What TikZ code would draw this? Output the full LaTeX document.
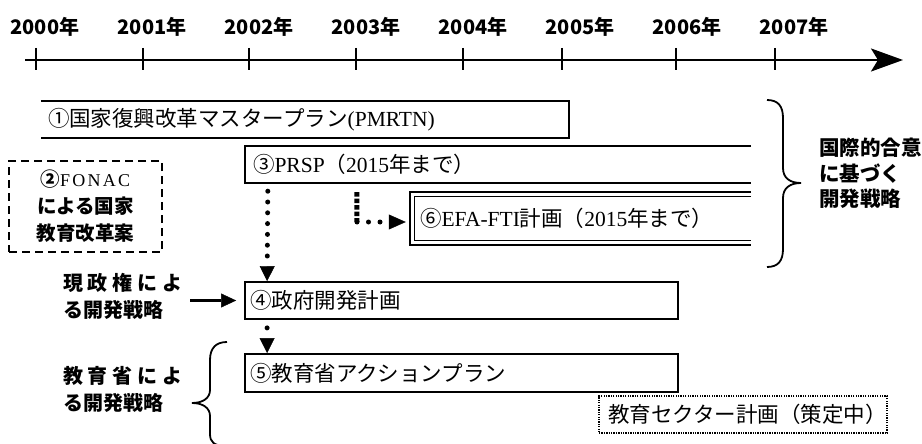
\documentclass[tikz,border=0pt]{standalone}
\usepackage{fontspec}
\setmainfont{Liberation Serif}
\newfontfamily\jp{Noto Sans CJK JP}
\usetikzlibrary{arrows.meta,calc}
\begin{document}
\begin{tikzpicture}[x=1pt,y=-1pt,
  every node/.style={inner sep=0pt},
  year/.style={font=\jp\bfseries\fontsize{20}{24}\selectfont},
  lbl/.style={font=\jp\bfseries\fontsize{20}{27}\selectfont, align=left, anchor=west},
  bx/.style={font=\fontsize{21.5}{26}\selectfont, align=left, inner xsep=#1, inner ysep=0pt},
  boxline/.style={line width=1.8pt},
  rdots/.style={line width=5pt, line cap=round, dash pattern=on 0pt off 10.8pt},
  sqdots/.style={line width=5pt, line cap=butt, dash pattern=on 4.5pt off 2pt},
  tip/.style={-{Triangle[length=15pt,width=15pt,line width=0.4pt]}},
  bracestyle/.style={line width=1.8pt}
]
\useasboundingbox (0,0) rectangle (922,444);
\fill[white] (0,0) rectangle (922,444);
\clip (0,0) rectangle (922,444);

% timeline
\draw[line width=2.5pt, -{Stealth[length=32pt,width=23pt,inset=7pt]}] (25,60) -- (903,60);
\foreach \x in {36,143,249,356,463,562,676,775}
  \draw[line width=2pt] (\x,48) -- (\x,70);
\foreach \i/\yr in {0/2000,1/2001,2/2002,3/2003,4/2004,5/2005,6/2006,7/2007}
  \node[year] (y\yr) at (45+107*\i,27) {\yr 年};

% (1) PMRTN, open at left
\node[bx=7pt, minimum height=37pt, text width=514pt] (n1) at (305,119.5)
  {{\jp ①国家復興改革マスタープラン}(PMRTN)};
\draw[boxline] (n1.north west) -- (n1.north east) -- (n1.south east) -- (n1.south west);

% (3) PRSP, open at right
\node[bx=8pt, minimum height=37pt, text width=490pt] (n3) at (498,164.5)
  {{\jp ③}PRSP{\jp （}2015{\jp 年まで）}};
\draw[boxline] (n3.north east) -- (n3.north west) -- (n3.south west) -- (n3.south east);

% (6) EFA-FTI, double line, open at right
\node[bx=10pt, minimum height=53pt, text width=321pt] (n6) at (580.5,218.5)
  {{\jp ⑥}EFA-FTI{\jp 計画（}2015{\jp 年まで）}};
\draw[line width=2.5pt] (n6.north east) -- (n6.north west) -- (n6.south west) -- (n6.south east);
\draw[line width=1.2pt] ([yshift=-4.5pt]n6.north east) -- ([xshift=4.5pt,yshift=-4.5pt]n6.north west)
  -- ([xshift=4.5pt,yshift=4.5pt]n6.south west) -- ([yshift=4.5pt]n6.south east);

% (4), (5), sector plan
\node[bx=5pt, draw, boxline, minimum height=37pt, text width=423pt] (n4) at (461.5,300.5)
  {\jp ④政府開発計画};
\node[bx=5pt, draw, boxline, minimum height=38pt, text width=423pt] (n5) at (461.5,373)
  {\jp ⑤教育省アクションプラン};
\node[bx=9pt, draw, line width=1.3pt, dash pattern=on 1.3pt off 1.1pt, minimum height=37pt, text width=270pt] (ns) at (743,414.5)
  {\jp 教育セクター計画（策定中）};

% (2) FONAC dashed box
\node[draw, line width=2.6pt, dash pattern=on 8pt off 5pt, minimum width=153pt, minimum height=91pt,
  align=center, font=\jp\bfseries\fontsize{19.5}{27}\selectfont] (n2) at (85.5,206.5)
  {②\makebox[70pt][s]{\rmfamily\mdseries\fontsize{18}{20}\selectfont F\hfil O\hfil N\hfil A\hfil C}\\による国家\\教育改革案};

% labels
\node[lbl] (L1) at (63,296.5) {\makebox[119pt][s]{現\hfil 政\hfil 権\hfil に\hfil よ}\\る開発戦略};
\node[lbl] (L2) at (63,389) {\makebox[119pt][s]{教\hfil 育\hfil 省\hfil に\hfil よ}\\る開発戦略};
\node[lbl, font=\jp\bfseries\fontsize{20.5}{25.5}\selectfont] (R) at (819,173.5) {国際的合意\\に基づく\\開発戦略};

% connectors
\draw[rdots, tip] ([xshift=23pt,yshift=-8pt]n3.south west) -- ([xshift=23pt]n4.north west);
\draw[rdots, tip] ([xshift=23pt,yshift=-8pt]n4.south west) -- ([xshift=23pt]n5.north west);
\coordinate (c6) at (357,222);
\draw[sqdots] ([xshift=112pt,yshift=-9pt]n3.south west) -- (c6);
\draw[line width=5pt, line cap=round, dash pattern=on 0pt off 11.5pt,
  -{Triangle[length=17pt,width=15pt,line width=0.4pt]}, shorten >=4pt] (c6) -- (c6 -| n6.west);
\draw[line width=3pt, -{Triangle[length=15pt,width=14pt,line width=0.4pt]}]
  ([xshift=8pt]L1.east |- n4.west) -- ([xshift=-8pt]n4.west);

% braces
\draw[bracestyle] (767,100) .. controls (778,100) and (783,106) .. (783,118)
  -- (783,168) .. controls (783,178) and (790,183) .. (801,183)
  .. controls (790,183) and (783,188) .. (783,198)
  -- (783,249) .. controls (783,261) and (778,267) .. (767,267);
\draw[bracestyle] (227,342) .. controls (216,342) and (210,348) .. (210,360)
  -- (210,390) .. controls (210,398) and (203,403) .. (192,403)
  .. controls (203,403) and (210,408) .. (210,416)
  -- (210,434) .. controls (210,442) and (214,446) .. (226,446);
\end{tikzpicture}
\end{document}
